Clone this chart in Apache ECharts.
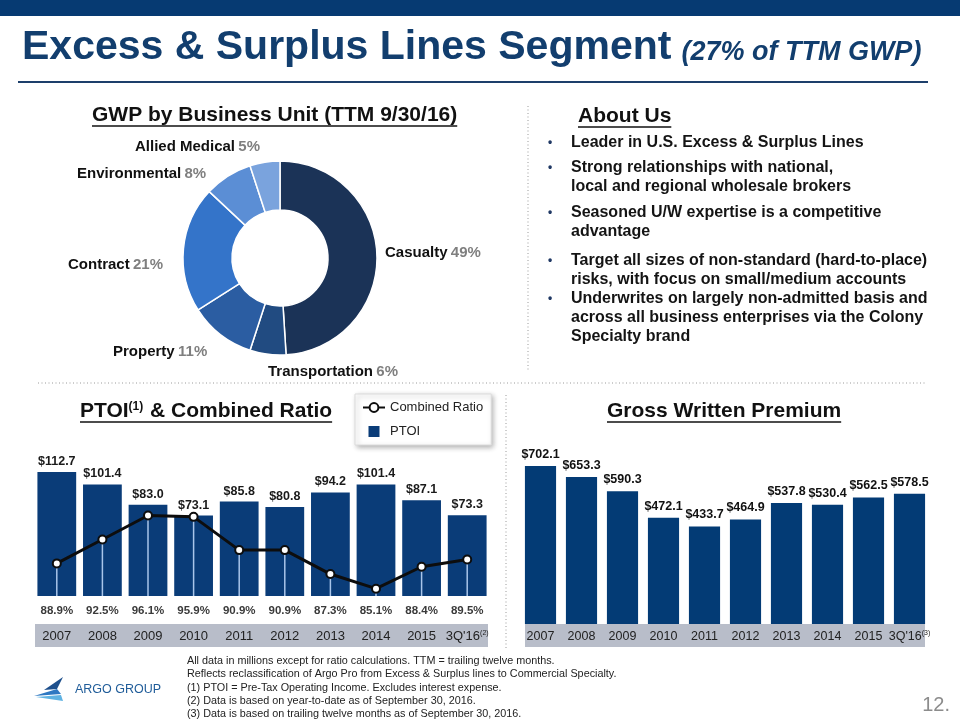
<!DOCTYPE html>
<html><head><meta charset="utf-8">
<script src="https://cdn.jsdelivr.net/npm/echarts@6/dist/echarts.min.js"></script>
<style>html,body{margin:0;padding:0;background:#fff}#c{width:960px;height:720px}</style>
</head><body><div id="c"></div>
<script>
// ---------- data ----------
const pieNames = ['Casualty', 'Transportation', 'Property', 'Contract', 'Environmental', 'Allied Medical'];
const pieValues = [49, 6, 11, 21, 8, 5];
const pieColors = ['#1b3357', '#214b81', '#2b5da2', '#3474c9', '#5b8ed5', '#7aa3dd'];

const ptoiYears = ['2007', '2008', '2009', '2010', '2011', '2012', '2013', '2014', '2015', "3Q'16"];
const ptoiYearNotes = ['', '', '', '', '', '', '', '', '', '(2)'];
const ptoiValues = [112.7, 101.4, 83.0, 73.1, 85.8, 80.8, 94.2, 101.4, 87.1, 73.3];
const combinedRatio = [88.9, 92.5, 96.1, 95.9, 90.9, 90.9, 87.3, 85.1, 88.4, 89.5];

const gwpYears = ['2007', '2008', '2009', '2010', '2011', '2012', '2013', '2014', '2015', "3Q'16"];
const gwpYearNotes = ['', '', '', '', '', '', '', '', '', '(3)'];
const gwpValues = [702.1, 653.3, 590.3, 472.1, 433.7, 464.9, 537.8, 530.4, 562.5, 578.5];

const titleMain = 'Excess & Surplus Lines Segment';
const titleSub = '(27% of TTM GWP)';
const aboutLines = [
  ['Leader in U.S. Excess & Surplus Lines'],
  ['Strong relationships with national,', 'local and regional wholesale brokers'],
  ['Seasoned U/W expertise is a competitive', 'advantage'],
  ['Target all sizes of non-standard (hard-to-place)', 'risks, with focus on small/medium accounts'],
  ['Underwrites on largely non-admitted basis and', 'across all business enterprises via the Colony', 'Specialty brand']
];
const footNotes = [
  'All data in millions except for ratio calculations. TTM = trailing twelve months.',
  'Reflects reclassification of Argo Pro from Excess & Surplus lines to Commercial Specialty.',
  '(1) PTOI = Pre-Tax Operating Income. Excludes interest expense.',
  '(2) Data is based on year-to-date as of September 30, 2016.',
  '(3) Data is based on trailing twelve months as of September 30, 2016.'
];

// ---------- layout / style ----------
const FF = "'Liberation Sans', Arial, Helvetica, sans-serif";
const FN = "'Liberation Sans Narrow', 'Arial Narrow', 'Liberation Sans', sans-serif";
const NAVY = '#123e6e';
const ratioMin = 84, ratioMax = 105.5;
const pieLabelPos = [[385, 253], [268, 372], [113, 352], [68, 265], [77, 174], [135, 147]];

const mctx = document.createElement('canvas').getContext('2d');
function measure(t, font) { mctx.font = font; return mctx.measureText(t).width; }

const g = [];
// top bar
g.push({type: 'rect', shape: {x: 0, y: 0, width: 960, height: 16}, style: {fill: '#063a72'}});
// title
const fTitle = 'bold 41px ' + FF;
const fSub = 'italic bold 27px ' + FF;
g.push({type: 'text', x: 22, y: 48, style: {text: titleMain, font: fTitle, fill: NAVY, verticalAlign: 'middle'}});
const subX = 22 + measure(titleMain, fTitle) + 10;
g.push({type: 'text', x: subX, y: 53, style: {text: titleSub, font: fSub, fill: NAVY, verticalAlign: 'middle'}});
g.push({type: 'line', shape: {x1: 18, y1: 82, x2: 928, y2: 82}, style: {stroke: '#1d3f6b', lineWidth: 2}});

// headings
const FB21 = 'bold 21px ' + FF;
function heading(x, y, text) {
  g.push({type: 'text', x: x, y: y, style: {text: text, font: FB21, fill: '#111', verticalAlign: 'middle'}});
  const w = measure(text, FB21);
  g.push({type: 'line', shape: {x1: x, y1: y + 11, x2: x + w, y2: y + 11}, style: {stroke: '#111', lineWidth: 1.5}});
}
heading(92, 115, 'GWP by Business Unit (TTM 9/30/16)');
heading(578, 116, 'About Us');
heading(607, 411, 'Gross Written Premium');
// PTOI heading with superscript
(function () {
  const x = 80, y = 411;
  g.push({type: 'text', x: x, y: y, style: {
    text: '{a|PTOI}{s|(1)}{a| & Combined Ratio}', verticalAlign: 'middle',
    rich: {
      a: {fontSize: 21, fontWeight: 'bold', fontFamily: FF, fill: '#111'},
      s: {fontSize: 12, fontWeight: 'bold', fontFamily: FF, fill: '#111', verticalAlign: 'top', padding: [0, 1, 8, 0]}
    }
  }});
  const w = measure('PTOI', FB21) + measure('(1)', 'bold 12px ' + FF) + 1 + measure(' & Combined Ratio', FB21);
  g.push({type: 'line', shape: {x1: x, y1: y + 11, x2: x + w, y2: y + 11}, style: {stroke: '#111', lineWidth: 1.5}});
})();

// About Us bullets
const bulletY = [143, 168, 213, 261, 299];
const FB16 = 'bold 16px ' + FF;
aboutLines.forEach(function (lines, i) {
  g.push({type: 'text', x: 548, y: bulletY[i], style: {text: '\u2022', font: 'bold 12px ' + FF, fill: '#1f3864', verticalAlign: 'middle'}});
  lines.forEach(function (ln, j) {
    g.push({type: 'text', x: 571, y: bulletY[i] + j * 19, style: {text: ln, font: FB16, fill: '#141414', verticalAlign: 'middle'}});
  });
});

// dotted separators
const dot = {stroke: '#9a9a9a', lineWidth: 1, lineDash: [1, 2.5]};
g.push({type: 'line', shape: {x1: 528, y1: 106, x2: 528, y2: 372}, style: dot});
g.push({type: 'line', shape: {x1: 38, y1: 383, x2: 926, y2: 383}, style: dot});
g.push({type: 'line', shape: {x1: 506, y1: 395, x2: 506, y2: 650}, style: dot});

// category bands
g.push({type: 'rect', z: -1, shape: {x: 35, y: 624, width: 453, height: 23}, style: {fill: '#b8bdc9'}});
g.push({type: 'rect', z: -1, shape: {x: 525, y: 624, width: 400, height: 23}, style: {fill: '#b8bdc9'}});

// footer
footNotes.forEach(function (t, i) {
  g.push({type: 'text', x: 187, y: 661 + i * 13.3, style: {text: t, font: '10.8px ' + FN, fill: '#222', verticalAlign: 'middle'}});
});
g.push({type: 'text', x: 950, y: 705, style: {text: '12.', font: '20px ' + FN, fill: '#8c8c8c', align: 'right', verticalAlign: 'middle'}});
// logo
g.push({type: 'polygon', shape: {points: [[63, 677], [44, 690], [57, 689]]}, style: {fill: '#1d4f8c'}});
g.push({type: 'polygon', shape: {points: [[57, 689], [34, 696], [61, 694]]}, style: {fill: '#2e78c2'}});
g.push({type: 'polygon', shape: {points: [[36, 697], [63, 701], [61, 695]]}, style: {fill: '#5fb2e2'}});
g.push({type: 'text', x: 75, y: 690, style: {text: 'ARGO GROUP', font: '12.5px ' + FF, fill: '#1f5c99', verticalAlign: 'middle'}});

function money(v) { return '$' + v.toFixed(1); }
function yearFmt(notes) {
  return function (v, i) { return notes[i] ? v + '{sup|' + notes[i] + '}' : v; };
}

const chart = echarts.init(document.getElementById('c'), null, {renderer: 'canvas'});
const option = {
  backgroundColor: '#fff',
  animation: false,
  textStyle: {fontFamily: FF},
  graphic: {elements: g},
  legend: {
    data: [{name: 'Combined Ratio'}, {name: 'PTOI', icon: 'path://M0 0H10V10H0Z'}],
    orient: 'vertical', left: 355, top: 394, itemGap: 11, itemWidth: 22, itemHeight: 11,
    padding: [7, 8, 7, 7], selectedMode: false,
    backgroundColor: '#fff', borderColor: '#dcdcdc', borderWidth: 1,
    shadowBlur: 5, shadowColor: 'rgba(0,0,0,0.3)', shadowOffsetX: 2, shadowOffsetY: 2,
    textStyle: {fontSize: 13, color: '#222', fontFamily: FF}
  },
  grid: [
    {left: 34, top: 453, width: 456, height: 143, outerBoundsMode: 'none', containLabel: false},
    {left: 520, top: 444, width: 410, height: 180, outerBoundsMode: 'none', containLabel: false}
  ],
  xAxis: [
    {type: 'category', gridIndex: 0, data: ptoiYears, axisLine: {show: false}, axisTick: {show: false},
      axisLabel: {margin: 9, fontSize: 11.5, fontWeight: 'bold', color: '#3a3a3a', interval: 0,
        formatter: function (v, i) { return combinedRatio[i].toFixed(1) + '%'; }}},
    {type: 'category', gridIndex: 0, position: 'bottom', offset: 28, data: ptoiYears, axisLine: {show: false}, axisTick: {show: false},
      axisLabel: {margin: 6, fontSize: 13, color: '#222', interval: 0, formatter: yearFmt(ptoiYearNotes),
        rich: {sup: {fontSize: 7, color: '#222', verticalAlign: 'top', padding: [0, 0, 6, 0]}}}},
    {type: 'category', gridIndex: 1, data: gwpYears, axisLine: {show: false}, axisTick: {show: false},
      axisLabel: {margin: 6, fontSize: 12.5, color: '#222', interval: 0, formatter: yearFmt(gwpYearNotes),
        rich: {sup: {fontSize: 7, color: '#222', verticalAlign: 'top', padding: [0, 0, 6, 0]}}}}
  ],
  yAxis: [
    {type: 'value', gridIndex: 0, min: 0, max: 130, show: false},
    {type: 'value', gridIndex: 0, min: ratioMin, max: ratioMax, show: false},
    {type: 'value', gridIndex: 1, min: 0, max: 800, show: false}
  ],
  series: [
    {name: 'PTOI', type: 'bar', xAxisIndex: 0, yAxisIndex: 0, data: ptoiValues, barCategoryGap: '15%', z: 2,
      itemStyle: {color: '#0a3c78'},
      label: {show: true, position: 'top', distance: 4, fontSize: 12.5, fontWeight: 'bold', color: '#1a1a1a',
        formatter: function (p) { return money(p.value); }}},
    {name: 'drop', type: 'custom', xAxisIndex: 0, yAxisIndex: 1, z: 3, silent: true,
      data: combinedRatio.map(function (v, i) { return [i, v]; }),
      encode: {x: 0, y: 1},
      renderItem: function (params, api) {
        const top = api.coord([api.value(0), api.value(1)]);
        const bot = api.coord([api.value(0), ratioMin]);
        return {type: 'line', shape: {x1: top[0], y1: top[1], x2: bot[0], y2: bot[1]},
          style: {stroke: '#a9c5ea', lineWidth: 1.5}};
      }},
    {name: 'Combined Ratio', type: 'line', xAxisIndex: 0, yAxisIndex: 1, data: combinedRatio, z: 4,
      symbol: 'emptyCircle', symbolSize: 8,
      lineStyle: {color: '#0d0d0d', width: 3},
      itemStyle: {color: '#0d0d0d', borderWidth: 2.2}},
    {name: 'GWP', type: 'bar', xAxisIndex: 2, yAxisIndex: 2, data: gwpValues, barCategoryGap: '24%',
      itemStyle: {color: '#033b75'},
      label: {show: true, position: 'top', distance: 5, fontSize: 12.5, fontWeight: 'bold', color: '#111',
        formatter: function (p) { return money(p.value); }}},
    {name: 'GWP by Business Unit', type: 'pie', center: [280, 258], radius: [48, 97], startAngle: 90, clockwise: true,
      avoidLabelOverlap: false,
      data: pieNames.map(function (n, i) { return {name: n, value: pieValues[i], itemStyle: {color: pieColors[i]}}; }),
      itemStyle: {borderColor: '#fff', borderWidth: 1.5},
      labelLine: {show: false},
      label: {show: true, position: 'outside', formatter: '{n|{b}} {p|{c}%}',
        rich: {n: {fontSize: 15, fontWeight: 'bold', color: '#111', fontFamily: FF},
               p: {fontSize: 15, fontWeight: 'bold', color: '#7f7f7f', fontFamily: FF}}},
      labelLayout: function (params) {
        const p = pieLabelPos[params.dataIndex];
        return {x: p[0], y: p[1], align: 'left', verticalAlign: 'middle'};
      }}
  ]
};
chart.setOption(option);
</script>
</body></html>
